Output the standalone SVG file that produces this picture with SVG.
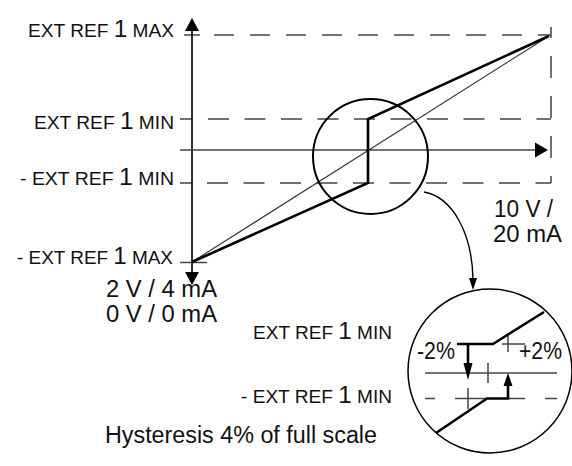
<svg xmlns="http://www.w3.org/2000/svg" width="572" height="466" viewBox="0 0 572 466">
<style>
.t{font-family:"Liberation Sans",Arial,sans-serif;fill:#111;font-size:18px}
.b{font-size:23px}
.n{font-family:"Liberation Sans",Arial,sans-serif;fill:#111;font-size:23px}
.dash{stroke:#444;stroke-width:1.5;fill:none;stroke-dasharray:21 15.5}
.thin{stroke:#444;stroke-width:1.5;fill:none}
.bold{stroke:#000;stroke-width:2.6;fill:none;stroke-linejoin:miter}
.ax{stroke:#000;stroke-width:1.6;fill:none}
</style>
<rect width="572" height="466" fill="#fff"/>
<g id="connectors">
  <path class="thin" d="M184,35 H200"/>
  <path class="dash" d="M214,35 H551" style="stroke-dasharray:20 16"/>
  <path class="thin" d="M180,119 H192"/>
  <path class="dash" d="M208,119 H551"/>
  <path class="thin" d="M180,183 H192"/>
  <path class="dash" d="M207,183 H551"/>
  <path class="thin" d="M180,262.5 H207"/>
  <path class="dash" d="M551,27 V183" style="stroke-dasharray:22 18;stroke-dashoffset:11"/>
  <path class="ax" d="M192,30 V274"/>
  <polygon points="185,31 199,31 192,18" fill="#000"/>
  <polygon points="185,272 199,272 192,285" fill="#000"/>
  <path class="thin" d="M180,150 H536"/>
  <polygon points="535,142.5 535,157.5 548,150" fill="#000"/>
  <path d="M192,262 L549,36" stroke="#333" stroke-width="1.1" fill="none"/>
  <path class="bold" d="M192,262 L368,183 V119 L549,36"/>
  <path d="M424,192 C452,197 472,232 473,279" stroke="#000" stroke-width="1.4" fill="none"/>
  <polygon points="469,278 477,278 473,290" fill="#000"/>
</g>
<g id="magnifier">
  <circle cx="370.5" cy="156.5" r="57.5" fill="none" stroke="#000" stroke-width="2"/>
</g>
<g id="detail">
  <circle cx="490" cy="371" r="82" fill="none" stroke="#000" stroke-width="1.5"/>
  <path class="thin" d="M425,373 H557" stroke-width="1.3"/>
  <path class="thin" d="M488,363 V383" stroke-width="1.3"/>
  <path class="thin" d="M508,335 V352 M502,344 H525" stroke-width="1.3"/>
  <path class="thin" d="M468,388 V409 M425,398.5 H435 M455,398.5 H486 M508,398.5 H525 M545,398.5 H557" stroke-width="1.3"/>
  <path class="bold" d="M457,344 H493 L544,312"/>
  <path class="bold" d="M436,433 L487,398.5 H508 V386"/>
  <path class="bold" d="M468,344 V364"/>
  <polygon points="463.5,363 472.5,363 468,380" fill="#000"/>
  <polygon points="503.5,386 512.5,386 508,373" fill="#000"/>
  <text class="n" x="417" y="359" font-size="21.5" textLength="38" lengthAdjust="spacingAndGlyphs">-2%</text>
  <text class="n" x="519" y="359" font-size="21.5" textLength="43" lengthAdjust="spacingAndGlyphs">+2%</text>
</g>
<g id="label-max">
  <text class="t" x="28" y="37" textLength="146" lengthAdjust="spacingAndGlyphs">EXT REF <tspan class="b">1</tspan> MAX</text>
</g>
<g id="label-min">
  <text class="t" x="34" y="129" textLength="140" lengthAdjust="spacingAndGlyphs">EXT REF <tspan class="b">1</tspan> MIN</text>
</g>
<g id="label-nmin">
  <text class="t" x="20" y="185" textLength="154" lengthAdjust="spacingAndGlyphs">- EXT REF <tspan class="b">1</tspan> MIN</text>
</g>
<g id="label-nmax">
  <text class="t" x="17" y="264" textLength="156" lengthAdjust="spacingAndGlyphs">- EXT REF <tspan class="b">1</tspan> MAX</text>
</g>
<g id="label-low">
  <text class="n" x="106" y="297" textLength="111" lengthAdjust="spacingAndGlyphs">2 V / 4 mA</text>
  <text class="n" x="106" y="322" textLength="111" lengthAdjust="spacingAndGlyphs">0 V / 0 mA</text>
</g>
<g id="label-high">
  <text class="n" x="494" y="217" textLength="59" lengthAdjust="spacingAndGlyphs">10 V /</text>
  <text class="n" x="493" y="242" textLength="69" lengthAdjust="spacingAndGlyphs">20 mA</text>
</g>
<g id="detail-labels">
  <text class="t" x="253" y="339" textLength="139" lengthAdjust="spacingAndGlyphs">EXT REF <tspan class="b">1</tspan> MIN</text>
  <text class="t" x="241" y="403" textLength="151" lengthAdjust="spacingAndGlyphs">- EXT REF <tspan class="b">1</tspan> MIN</text>
  <text class="n" x="105" y="443" textLength="272" lengthAdjust="spacingAndGlyphs">Hysteresis 4% of full scale</text>
</g>
</svg>
